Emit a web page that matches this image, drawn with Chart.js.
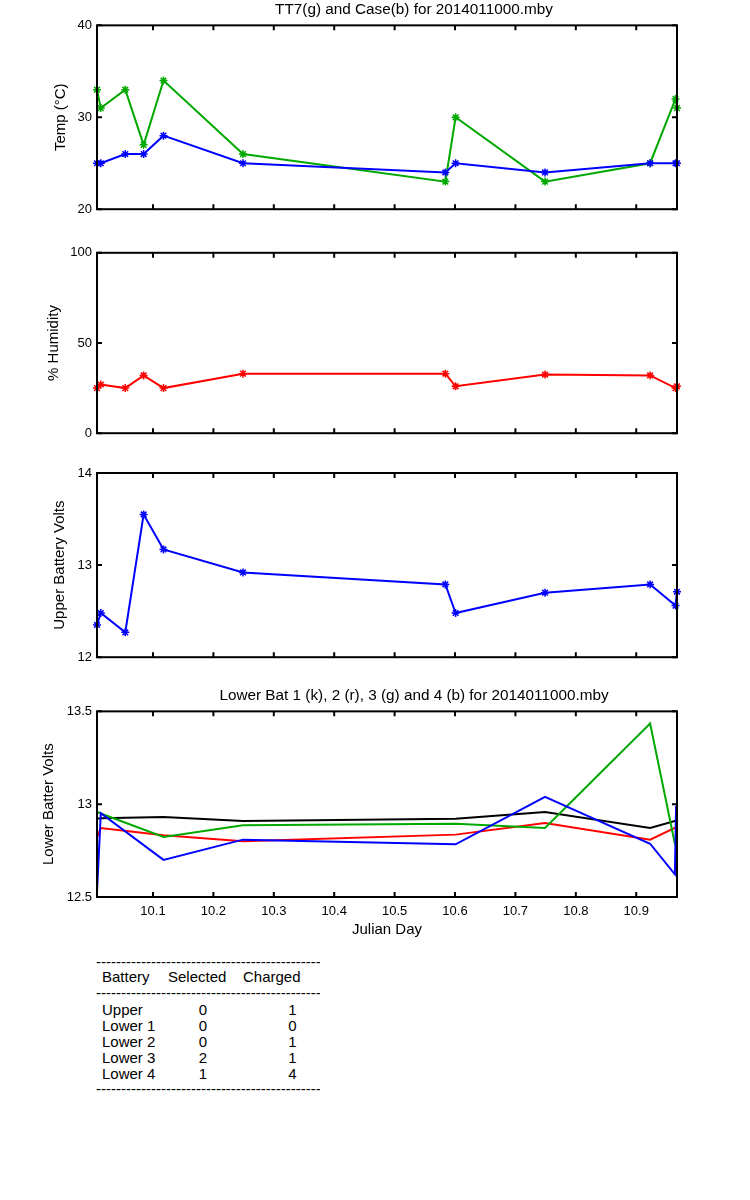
<!DOCTYPE html>
<html><head><meta charset="utf-8">
<script src="https://cdn.jsdelivr.net/npm/chart.js@4.4.0/dist/chart.umd.min.js"></script>
<style>
html,body{margin:0;padding:0;background:#fff;overflow:hidden;}
body{width:750px;height:1200px;position:relative;font-family:'Liberation Sans',Arial,sans-serif;}
canvas{position:absolute;left:0;}
.t{position:absolute;font-size:15px;line-height:16px;white-space:nowrap;color:#000;}
.d{position:absolute;font-size:15px;line-height:16px;white-space:nowrap;overflow:hidden;width:224px;color:#000;}
.c{text-align:center;width:20px;}
</style></head><body>
<canvas id="c1" style="top:0px"></canvas>
<canvas id="c2" style="top:240px"></canvas>
<canvas id="c3" style="top:460px"></canvas>
<canvas id="c4" style="top:680px"></canvas>
<div id="tbl"></div>
<script>
// ---------------- data ----------------
const TIME = [10.0073, 10.0136, 10.0541, 10.0845, 10.1174, 10.249, 10.584, 10.601, 10.749, 10.923, 10.965, 10.9675];
const TT7_TEMP = [33, 31, 33, 27, 34, 26, 23, 30, 23, 25, 32, 31];
const CASE_TEMP = [25, 25, 26, 26, 28, 25, 24, 25, 24, 25, 25, 25];
const HUMIDITY = [25, 27, 25, 32, 25, 33, 33, 26, 32.5, 32, 25, 26];
const UPPER_VOLTS = [12.35, 12.48, 12.27, 13.55, 13.17, 12.92, 12.79, 12.48, 12.70, 12.79, 12.56, 12.71];

const LOWER_TIME = [10.0073, 10.0136, 10.1174, 10.249, 10.601, 10.749, 10.923, 10.964, 10.966];
const LOWER_1 = [12.922, 12.924, 12.931, 12.909, 12.922, 12.958, 12.872, 12.909, 12.91];
const LOWER_2 = [12.823, 12.871, 12.832, 12.80, 12.836, 12.899, 12.809, 12.872, 12.875];
const LOWER_3 = [12.958, 12.95, 12.823, 12.886, 12.895, 12.872, 13.434, 12.787, 12.78];
const LOWER_4 = [12.527, 12.952, 12.70, 12.809, 12.784, 13.039, 12.787, 12.622, 12.99];

const X_MIN = 10.0073, X_MAX = 10.9675;
const X_TICKS = [10.1, 10.2, 10.3, 10.4, 10.5, 10.6, 10.7, 10.8, 10.9];
const TEMP_TICKS = [20, 30, 40];
const HUM_TICKS = [0, 50, 100];
const UPPER_TICKS = [12, 13, 14];
const LOWER_TICKS = [12.5, 13, 13.5];

const TABLE_HEAD = ['Battery', 'Selected', 'Charged'];
const TABLE_ROWS = ['Upper', 'Lower 1', 'Lower 2', 'Lower 3', 'Lower 4'];
const TABLE_SELECTED = [0, 0, 0, 2, 1];
const TABLE_CHARGED = [1, 0, 1, 1, 4];

// ---------------- chart helpers ----------------
const FONT = "'Liberation Sans', Arial, sans-serif";
const GREEN = 'rgb(0,168,0)', BLUE = '#0000ff', RED = '#ff0000', BLACK = '#000000';
const CANVAS_W = 828;   // wider than page so titles centre where the original does
const PLOT_RIGHT = 677;

const framePlugin = {
  id: 'frame',
  afterDraw(chart) {
    const {ctx, chartArea: a, scales} = chart;
    ctx.save();
    ctx.strokeStyle = '#000';
    ctx.lineWidth = 2;
    ctx.strokeRect(a.left, a.top, a.right - a.left, a.bottom - a.top);
    const L = 5;
    ctx.beginPath();
    scales.x.ticks.forEach(t => {
      const px = scales.x.getPixelForValue(t.value);
      ctx.moveTo(px, a.top); ctx.lineTo(px, a.top + L);
      ctx.moveTo(px, a.bottom); ctx.lineTo(px, a.bottom - L);
    });
    scales.y.ticks.forEach(t => {
      const py = scales.y.getPixelForValue(t.value);
      ctx.moveTo(a.left, py); ctx.lineTo(a.left + L, py);
      ctx.moveTo(a.right, py); ctx.lineTo(a.right - L, py);
    });
    ctx.stroke();
    ctx.restore();
  }
};

function pts(xs, ys) { return xs.map((x, i) => ({x: x, y: ys[i]})); }
function fmt(v) { return String(+(+v).toFixed(2)); }

function lineSet(data, color, markers) {
  return {
    data: data, borderColor: color, backgroundColor: color,
    borderWidth: 2, tension: 0, fill: false,
    pointStyle: 'star', pointRadius: markers ? 4 : 0, pointBorderWidth: 1.5,
    pointBorderColor: color, clip: false
  };
}

function makeChart(id, h, cfg) {
  const cv = document.getElementById(id);
  cv.width = CANVAS_W; cv.height = h;
  cv.style.width = CANVAS_W + 'px'; cv.style.height = h + 'px';
  return new Chart(cv, {
    type: 'line',
    data: {datasets: cfg.datasets},
    plugins: [framePlugin],
    options: {
      responsive: false, animation: false, devicePixelRatio: 1,
      layout: {padding: {left: 0, right: 0, top: cfg.padTop, bottom: 0}},
      plugins: {
        legend: {display: false}, tooltip: {enabled: false},
        title: cfg.title ? {display: true, text: cfg.title, color: '#000',
          font: {family: FONT, size: 15.3, weight: 'normal'}, padding: cfg.titlePad} : {display: false}
      },
      scales: {
        x: {
          type: 'linear', min: X_MIN, max: X_MAX,
          afterBuildTicks: s => { s.ticks = X_TICKS.map(v => ({value: v})); },
          afterFit: s => { s.height = cfg.xHeight; },
          grid: {display: false, drawTicks: false, tickLength: 0},
          border: {display: false},
          ticks: {display: !!cfg.xLabels, padding: 7, color: '#000', maxRotation: 0, autoSkip: false,
            font: {family: FONT, size: 13}, callback: v => (+v).toFixed(1)},
          title: {display: !!cfg.xLabels, text: 'Julian Day', color: '#000',
            font: {family: FONT, size: 15}, padding: {top: 4, bottom: 4}}
        },
        y: {
          type: 'linear', position: 'left', min: cfg.yTicks[0], max: cfg.yTicks[cfg.yTicks.length - 1],
          afterBuildTicks: s => { s.ticks = cfg.yTicks.map(v => ({value: v})); },
          afterFit: s => { s.width = 97; },
          grid: {display: false, drawTicks: false, tickLength: 0},
          border: {display: false},
          ticks: {padding: 5, color: '#000', font: {family: FONT, size: 13}, callback: v => fmt(v)},
          title: {display: true, text: cfg.yTitle, color: '#000',
            font: {family: FONT, size: 15}, padding: {top: cfg.yTitlePad, bottom: 0}}
        },
        yRight: {
          type: 'linear', position: 'right', display: true,
          min: cfg.yTicks[0], max: cfg.yTicks[cfg.yTicks.length - 1],
          afterFit: s => { s.width = CANVAS_W - PLOT_RIGHT; },
          grid: {display: false, drawTicks: false},
          border: {display: false},
          ticks: {display: false},
          title: {display: false}
        }
      }
    }
  });
}

makeChart('c1', 222, {
  title: 'TT7(g) and Case(b) for 2014011000.mby', titlePad: {top: 1, bottom: 6}, padTop: 0,
  xHeight: 10, yTicks: TEMP_TICKS, yTitle: 'Temp (°C)', yTitlePad: 52,
  datasets: [lineSet(pts(TIME, CASE_TEMP), BLUE, true), lineSet(pts(TIME, TT7_TEMP), GREEN, true)]
});
makeChart('c2', 206, {
  padTop: 9, xHeight: 10, yTicks: HUM_TICKS, yTitle: '% Humidity', yTitlePad: 45,
  datasets: [lineSet(pts(TIME, HUMIDITY), RED, true)]
});
makeChart('c3', 210, {
  padTop: 13, xHeight: 10, yTicks: UPPER_TICKS, yTitle: 'Upper Battery Volts', yTitlePad: 51,
  datasets: [lineSet(pts(TIME, UPPER_VOLTS), BLUE, true)]
});
makeChart('c4', 263, {
  title: 'Lower Bat 1 (k), 2 (r), 3 (g) and 4 (b) for 2014011000.mby', titlePad: {top: 7, bottom: 6}, padTop: 0,
  xHeight: 46, xLabels: true, yTicks: LOWER_TICKS, yTitle: 'Lower Batter Volts', yTitlePad: 40,
  datasets: [
    lineSet(pts(LOWER_TIME, LOWER_4), BLUE, false),
    lineSet(pts(LOWER_TIME, LOWER_3), GREEN, false),
    lineSet(pts(LOWER_TIME, LOWER_2), RED, false),
    lineSet(pts(LOWER_TIME, LOWER_1), BLACK, false)
  ]
});

// ---------------- table ----------------
(function () {
  const tbl = document.getElementById('tbl');
  const dash = '-'.repeat(60);
  function add(cls, left, top, text) {
    const d = document.createElement('div');
    d.className = cls; d.style.left = left + 'px'; d.style.top = top + 'px';
    d.textContent = text; tbl.appendChild(d);
  }
  add('d', 96, 953.7, dash);
  add('t', 102, 969, TABLE_HEAD[0]);
  add('t', 168, 969, TABLE_HEAD[1]);
  add('t', 243, 969, TABLE_HEAD[2]);
  add('d', 96, 985.2, dash);
  TABLE_ROWS.forEach((r, i) => {
    const top = 1001.5 + 16 * i;
    add('t', 102, top, r);
    add('t c', 193, top, String(TABLE_SELECTED[i]));
    add('t c', 282.5, top, String(TABLE_CHARGED[i]));
  });
  add('d', 96, 1081.2, dash);
})();
</script>
</body></html>
